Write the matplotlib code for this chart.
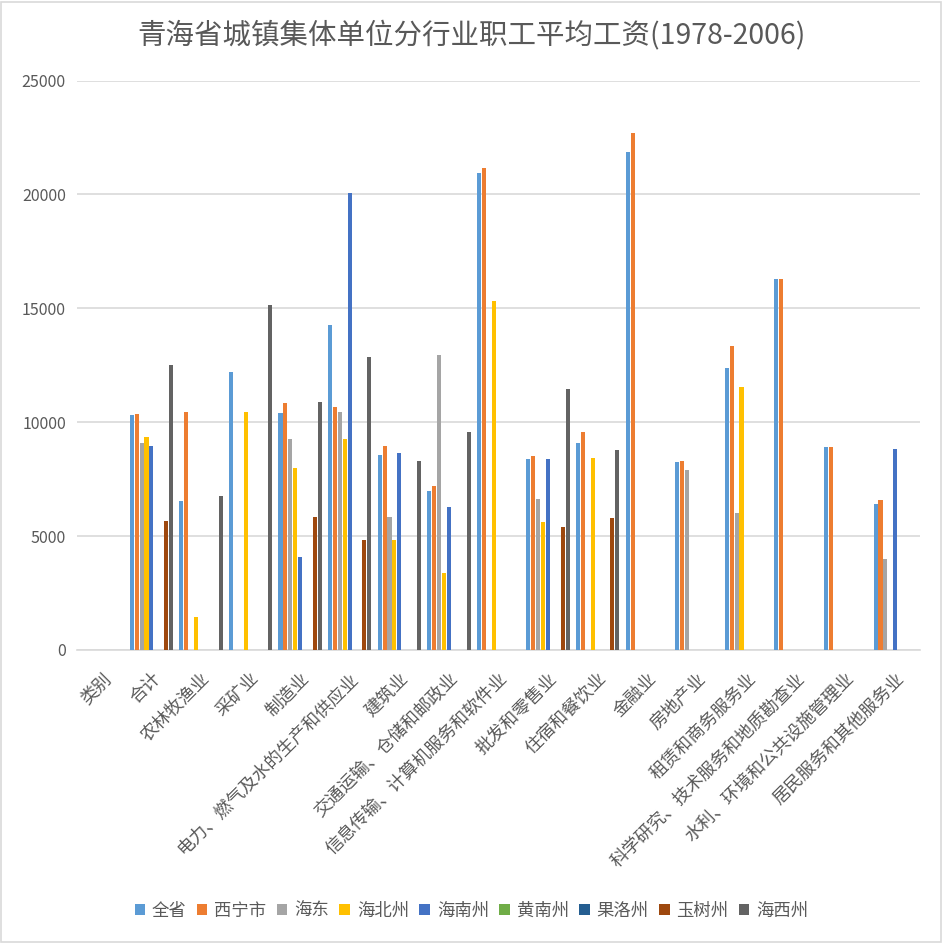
import numpy as np
import matplotlib
matplotlib.use("Agg")
import matplotlib.pyplot as plt
from matplotlib.patches import Rectangle

plt.rcParams['font.family'] = ['Noto Sans CJK SC', 'DejaVu Sans']

categories = ["类别", "合计", "农林牧渔业", "采矿业", "制造业", "电力、燃气及水的生产和供应业", "建筑业",
              "交通运输、仓储和邮政业", "信息传输、计算机服务和软件业", "批发和零售业", "住宿和餐饮业",
              "金融业", "房地产业", "租赁和商务服务业", "科学研究、技术服务和地质勘查业",
              "水利、环境和公共设施管理业", "居民服务和其他服务业"]

series_names = ["全省", "西宁市", "海东", "海北州", "海南州", "黄南州", "果洛州", "玉树州", "海西州"]
N = np.nan
quansheng = [N, 10300, 6520, 12200, 10390, 14250, 8580, 6990, 20920, 8400, 9090, 21850, 8250, 12370, 16280, 8900, 6400]
xining    = [N, 10370, 10460, N, 10840, 10660, 8960, 7210, 21140, 8530, 9580, 22700, 8280, 13330, 16280, 8900, 6580]
haidong   = [N, 9080, N, N, 9280, 10440, 5860, 12970, N, 6650, N, N, 7880, 6000, N, N, 4000]
haibei    = [N, 9360, 1430, 10460, 7970, 9250, 4840, 3370, 15310, 5630, 8410, N, N, 11530, N, N, N]
hainan    = [N, 8940, N, N, 4100, 20040, 8650, 6290, N, 8400, N, N, N, N, N, N, 8830]
huangnan  = [N] * 17
guoluo    = [N] * 17
yushu     = [N, 5680, N, N, 5850, 4810, N, N, N, 5390, 5780, N, N, N, N, N, N]
haixi     = [N, 12490, 6740, 15130, 10870, 12860, 8310, 9590, N, 11450, 8800, N, N, N, N, N, N]

all_series = [quansheng, xining, haidong, haibei, hainan, huangnan, guoluo, yushu, haixi]
colors = ["#5B9BD5", "#ED7D31", "#A5A5A5", "#FFC000", "#4472C4", "#70AD47", "#255E91", "#9E480E", "#636363"]

fig = plt.figure(figsize=(9.43, 9.43), dpi=100)
fig.patches.append(Rectangle((0.001, 0.001), 0.997, 0.997, transform=fig.transFigure,
                             fill=False, edgecolor="#D9D9D9", linewidth=1.2))
ax = fig.add_axes([77/943, 1 - 650/943, (920 - 77)/943, (650 - 80.5)/943])

x = np.arange(len(categories))
slot = 0.099
bw = 0.082
for i, (vals, c, name) in enumerate(zip(all_series, colors, series_names)):
    ax.bar(x + (i - 4) * slot, np.array(vals, dtype=float), width=bw, color=c, label=name, zorder=3)

ax.set_xlim(-0.5, len(categories) - 0.5)
ax.set_ylim(0, 25000)
ax.set_yticks(np.arange(0, 25001, 5000))
ax.grid(axis='y', color="#D9D9D9", linewidth=1.2, zorder=0)
for s in ["top", "right", "left"]:
    ax.spines[s].set_visible(False)
ax.spines["bottom"].set_color("#D9D9D9")
ax.spines["bottom"].set_linewidth(1.2)
ax.tick_params(axis='both', length=0, colors="#595959")
ax.tick_params(axis='y', labelsize=11.5, pad=8)
ax.set_xticks(x)
ax.set_xticklabels(categories, rotation=45, ha='right', va='top', rotation_mode='anchor',
                   fontsize=12.8, color="#595959")
ax.tick_params(axis='x', pad=14)

fig.text(0.5, 1 - 36/943, "青海省城镇集体单位分行业职工平均工资(1978-2006)", ha='center', va='center',
         fontsize=20.5, color="#595959")

handles, labels = ax.get_legend_handles_labels()
fig.legend(handles, labels, loc='center', bbox_to_anchor=(0.5, 1 - 911/943), ncol=9, frameon=False,
           fontsize=12.5, handlelength=0.6, handleheight=0.6, handletextpad=0.4, columnspacing=0.6,
           labelcolor="#595959")

fig.savefig("out.png", dpi=100)
